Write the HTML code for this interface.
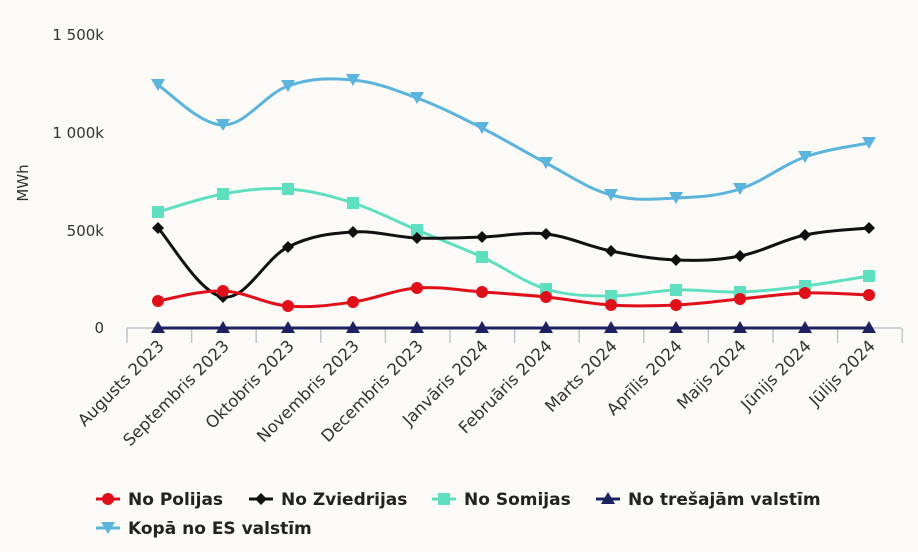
<!DOCTYPE html>
<html><head><meta charset="utf-8"><style>
html,body{margin:0;padding:0;background:#fbfaf7;}
svg{display:block;font-family:"DejaVu Sans","Liberation Sans",sans-serif;}
</style></head><body>
<svg id="c" width="918" height="552" viewBox="0 0 918 552" xmlns="http://www.w3.org/2000/svg">
<rect width="918" height="552" fill="#fbfaf7"/>
<g font-size="15" fill="#333" text-anchor="end">
<text x="104" y="40">1 500k</text>
<text x="104" y="138">1 000k</text>
<text x="104" y="236">500k</text>
<text x="104" y="333">0</text>
</g>
<text transform="translate(28,183) rotate(-90)" font-size="15" fill="#333" text-anchor="middle">MWh</text>
<g id="ax"></g>
<g id="series"></g>
<g id="lbl" font-size="16.5" fill="#333" text-anchor="end"></g>
<g font-size="17" font-weight="bold" fill="#222">
<line x1="96" y1="499" x2="120" y2="499" stroke="#e0101a" stroke-width="3"/><circle cx="108" cy="499" r="6" fill="#e0101a"/>
<text x="128" y="505">No Polijas</text>
<line x1="249" y1="499" x2="273" y2="499" stroke="#111" stroke-width="3"/><path d="M261 493l6 6-6 6-6-6z" fill="#111"/>
<text x="281" y="505">No Zviedrijas</text>
<line x1="432" y1="499" x2="456" y2="499" stroke="#5ee0c0" stroke-width="3"/><rect x="438" y="493" width="12" height="12" fill="#5ee0c0"/>
<text x="464" y="505">No Somijas</text>
<line x1="596" y1="499" x2="620" y2="499" stroke="#1c2260" stroke-width="3"/><path d="M608 492l7 12h-14z" fill="#1c2260"/>
<text x="628" y="505">No trešajām valstīm</text>
<line x1="96" y1="528" x2="120" y2="528" stroke="#5ab4dc" stroke-width="3"/><path d="M101 522h14l-7 12z" fill="#5ab4dc"/>
<text x="128" y="534">Kopā no ES valstīm</text>
</g>
</svg>
<script>
const X=[158,223,288,353,417,482,546,611,676,740,805,869];
const labels=["Augusts 2023","Septembris 2023","Oktobris 2023","Novembris 2023","Decembris 2023","Janvāris 2024","Februāris 2024","Marts 2024","Aprīlis 2024","Maijs 2024","Jūnijs 2024","Jūlijs 2024"];
const ns="http://www.w3.org/2000/svg";
function el(t,a,p){const e=document.createElementNS(ns,t);for(const k in a)e.setAttribute(k,a[k]);p.appendChild(e);return e;}
const ax=document.getElementById('ax');
el('line',{x1:127,y1:328,x2:901,y2:328,stroke:'#c0c4cc','stroke-width':1.5},ax);
for(let i=0;i<=12;i++){const x=127+i*64.6;el('line',{x1:x,y1:328,x2:x,y2:343,stroke:'#c0c4cc','stroke-width':1.5},ax);}
const lbl=document.getElementById('lbl');
X.forEach((x,i)=>{const t=el('text',{transform:`translate(${x+7},347) rotate(-45)`},lbl);t.textContent=labels[i];});
function path(Y){let d=`M${X[0]},${Y[0]}`;for(let i=0;i<X.length-1;i++){const p0=[X[Math.max(i-1,0)],Y[Math.max(i-1,0)]],p1=[X[i],Y[i]],p2=[X[i+1],Y[i+1]],p3=[X[Math.min(i+2,X.length-1)],Y[Math.min(i+2,X.length-1)]];const t=0.18;d+=` C${p1[0]+(p2[0]-p0[0])*t},${p1[1]+(p2[1]-p0[1])*t} ${p2[0]-(p3[0]-p1[0])*t},${p2[1]-(p3[1]-p1[1])*t} ${p2[0]},${p2[1]}`;}return d;}
const S=[
{c:'#1c2260',Y:Array(12).fill(328),m:'tri'},
{c:'#5ee0c0',Y:[212,194,189,203,230,257,289,296,290,292,286,276],m:'sq'},
{c:'#111',Y:[228,297,247,232,238,237,234,251,260,256,235,228],m:'dia'},
{c:'#e0101a',Y:[301,291,306,302,288,292,297,305,305,299,293,295],m:'circ'},
{c:'#5ab4dc',Y:[85,125,86,80,98,128,163,195,198,189,157,143],m:'itri'}];
const g=document.getElementById('series');
S.forEach(s=>{el('path',{d:path(s.Y),fill:'none',stroke:s.c,'stroke-width':3},g);
X.forEach((x,i)=>{const y=s.Y[i];
if(s.m=='circ')el('circle',{cx:x,cy:y,r:6,fill:s.c},g);
else if(s.m=='sq')el('rect',{x:x-6,y:y-6,width:12,height:12,fill:s.c},g);
else if(s.m=='dia')el('path',{d:`M${x} ${y-6}l6 6-6 6-6-6z`,fill:s.c},g);
else if(s.m=='tri')el('path',{d:`M${x} ${y-7}l7 12h-14z`,fill:s.c},g);
else el('path',{d:`M${x-7} ${y-6}h14l-7 12z`,fill:s.c},g);});});
</script>
</body></html>
